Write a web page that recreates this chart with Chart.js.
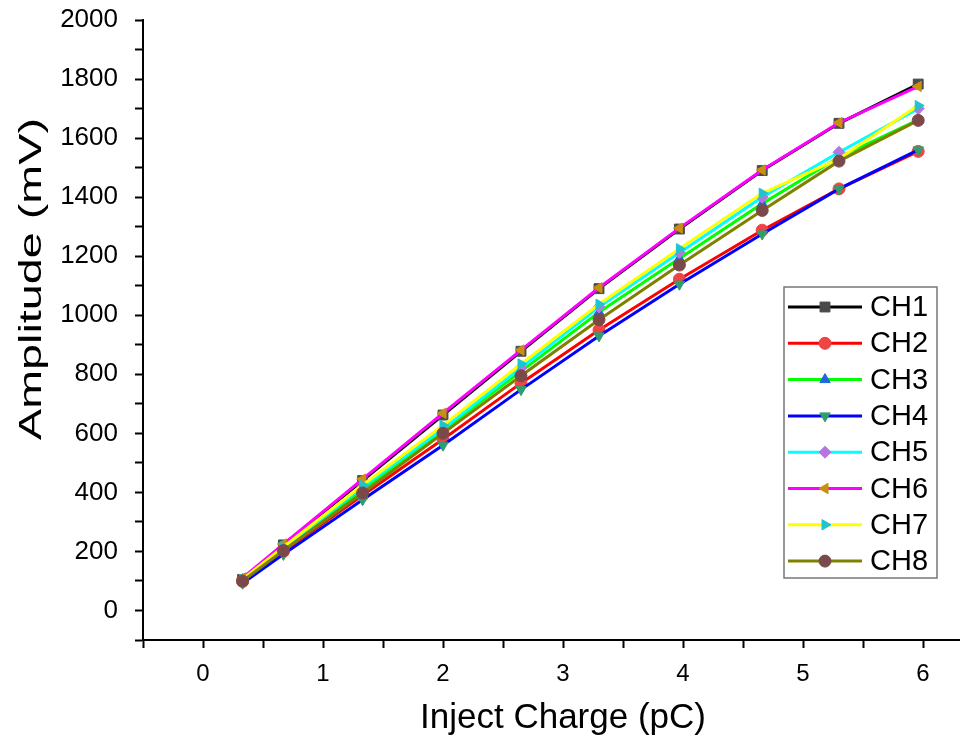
<!DOCTYPE html>
<html>
<head>
<meta charset="utf-8">
<script src="https://cdn.jsdelivr.net/npm/chart.js@4.4.1/dist/chart.umd.min.js"></script>
<style>
  html, body { margin: 0; padding: 0; background: #fff; }
  #wrap { width: 980px; height: 740px; }
</style>
</head>
<body>
<div id="wrap"><canvas id="myChart" width="980" height="740"></canvas></div>
<script>
  const charge = [0.33, 0.67, 1.33, 2.0, 2.65, 3.3, 3.97, 4.66, 5.3, 5.96];

  const ch1 = [105, 222, 440, 662, 878, 1090, 1292, 1490, 1650, 1783];
  const ch2 = [98, 200, 390, 580, 770, 950, 1122, 1288, 1428, 1555];
  const ch3 = [102, 208, 410, 610, 810, 1010, 1192, 1378, 1535, 1662];
  const ch4 = [92, 190, 375, 560, 748, 930, 1105, 1275, 1428, 1560];
  const ch5 = [105, 212, 418, 615, 822, 1028, 1212, 1400, 1552, 1700];
  const ch6 = [110, 225, 445, 668, 882, 1093, 1295, 1492, 1652, 1775];
  const ch7 = [106, 215, 425, 627, 835, 1037, 1225, 1413, 1530, 1710];
  const ch8 = [100, 203, 398, 600, 795, 985, 1170, 1355, 1522, 1660];

  const names = ["CH1", "CH2", "CH3", "CH4", "CH5", "CH6", "CH7", "CH8"];
  const series = [ch1, ch2, ch3, ch4, ch5, ch6, ch7, ch8];
  const lineColors = ["#000000", "#ff0000", "#00ff00", "#0000ff", "#00ffff", "#ff00ff", "#ffff00", "#808000"];
  const markColors = ["#4a4a4a", "#ef4444", "#2266dd", "#2f9e6e", "#b676e0", "#c8900e", "#20c4cc", "#7a4a4a"];
  const markStyles = ["rect", "circle", "triangle", "triangle", "rectRot", "triangle", "triangle", "circle"];
  const markRot = [0, 0, 0, 180, 0, -90, 90, 0];
  const markRadius = [7, 6, 6, 6, 6, 6, 6, 6];

  const yTicks = [0, 200, 400, 600, 800, 1000, 1200, 1400, 1600, 1800, 2000];
  const xTicks = [0, 1, 2, 3, 4, 5, 6];
  const yTitle = "Amplitude (mV)";
  const xTitle = "Inject Charge (pC)";

  const datasets = series.map((vals, i) => ({
    label: names[i],
    data: vals.map((v, j) => ({ x: charge[j], y: v })),
    borderColor: lineColors[i],
    backgroundColor: markColors[i],
    pointBackgroundColor: markColors[i],
    pointBorderColor: markColors[i],
    pointBorderWidth: 1,
    pointStyle: markStyles[i],
    pointRotation: markRot[i],
    pointRadius: markRadius[i],
    borderWidth: 3,
    tension: 0,
    order: 8 - i,
  }));

  const near = (v, list) => list.some((t) => Math.abs(t - v) < 1e-6);

  // axis titles and legend box drawn by hand, like the original figure
  const extras = {
    id: "extras",
    afterDraw(chart) {
      const c = chart.ctx;
      c.save();
      c.font = "32px Arial, 'Liberation Sans', sans-serif";
      c.fillStyle = "#000";
      c.textAlign = "center";
      c.textBaseline = "middle";
      c.translate(32, 279);
      c.rotate(-Math.PI / 2);
      const tw = c.measureText(yTitle).width;
      c.scale(322 / tw, 1);
      c.fillText(yTitle, 0, 0);
      c.restore();

      c.save();
      c.font = "35px Arial, 'Liberation Sans', sans-serif";
      c.fillStyle = "#000";
      c.textAlign = "center";
      c.textBaseline = "middle";
      c.fillText(xTitle, 563, 718);
      c.restore();

      const left = 784, top = 287, w = 153, h = 291;
      c.save();
      c.fillStyle = "#fff";
      c.fillRect(left, top, w, h);
      c.strokeStyle = "#777";
      c.lineWidth = 1.5;
      c.strokeRect(left, top, w, h);
      c.font = "29px Arial, 'Liberation Sans', sans-serif";
      c.textBaseline = "middle";
      names.forEach((n, i) => {
        const y = top + 20 + i * 36.3;
        c.strokeStyle = lineColors[i];
        c.lineWidth = 3;
        c.beginPath();
        c.moveTo(left + 4, y);
        c.lineTo(left + 78, y);
        c.stroke();
        c.fillStyle = markColors[i];
        c.strokeStyle = markColors[i];
        c.lineWidth = 1;
        Chart.helpers.drawPoint(c, {
          pointStyle: markStyles[i],
          rotation: markRot[i],
          radius: markRadius[i],
          borderWidth: 1,
        }, left + 41, y);
        c.fillStyle = "#000";
        c.fillText(n, left + 86, y + 1);
      });
      c.restore();
    },
  };

  const ctx = document.getElementById("myChart");

  const chart1 = new Chart(ctx, {
    type: "line",
    data: { datasets: datasets },
    options: {
      responsive: false,
      animation: false,
      layout: { padding: { top: 20, right: 21, left: 0, bottom: 0 } },
      scales: {
        x: {
          type: "linear",
          min: -0.5,
          max: 6.3,
          border: { color: "#000", width: 2 },
          grid: {
            drawOnChartArea: false,
            tickLength: 8,
            tickColor: "#000",
            tickWidth: 2,
          },
          ticks: {
            stepSize: 0.5,
            includeBounds: false,
            padding: 12,
            color: "#000",
            font: { family: "'Liberation Sans Narrow', Arial, sans-serif", size: 24 },
            maxRotation: 0,
            autoSkip: false,
            callback: (v) => (near(v, xTicks) ? String(Math.round(v)) : ""),
          },
          afterFit: (scale) => {
            scale.height = 100;
            scale.paddingLeft = 0;
            scale.paddingRight = 0;
          },
          title: { display: false },
        },
        y: {
          min: -100,
          max: 2000,
          border: { color: "#000", width: 2 },
          grid: {
            drawOnChartArea: false,
            tickLength: 8,
            tickColor: "#000",
            tickWidth: 2,
          },
          ticks: {
            stepSize: 100,
            padding: 17,
            color: "#000",
            font: { family: "Arial, 'Liberation Sans', sans-serif", size: 26 },
            autoSkip: false,
            callback: (v) => (near(v, yTicks) ? String(Math.round(v)) : ""),
          },
          afterFit: (scale) => {
            scale.width = 143;
            scale.paddingTop = 0;
            scale.paddingBottom = 0;
          },
          title: { display: false },
        },
      },
      plugins: {
        legend: { display: false },
        tooltip: { enabled: false },
      },
    },
    plugins: [extras],
  });
</script>
</body>
</html>
